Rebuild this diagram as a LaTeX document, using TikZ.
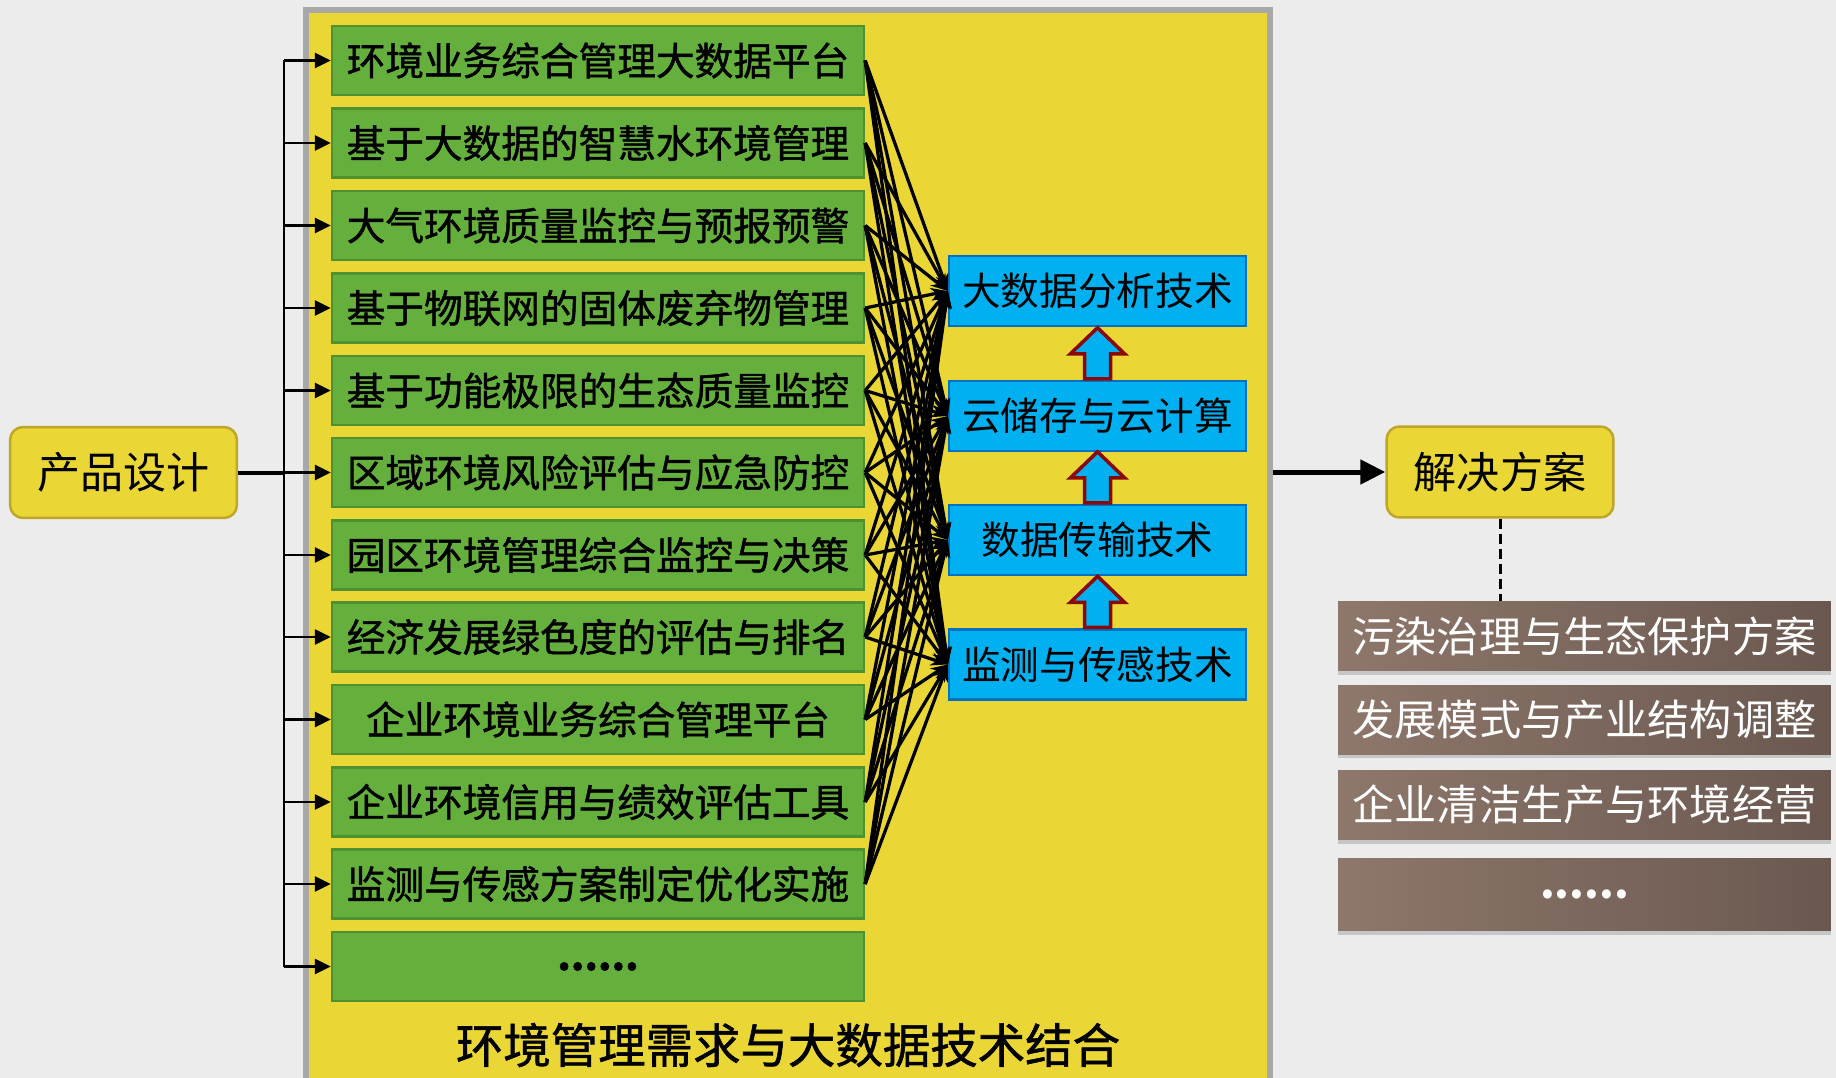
\documentclass[tikz,border=0pt]{standalone}
\usepackage{fontspec}
\setmainfont{Noto Sans CJK SC}
\newfontfamily\heavycjk{Noto Sans CJK SC}[FakeBold=1.2]
\usetikzlibrary{arrows.meta,shadows}

\definecolor{paper}{RGB}{236,236,236}
\definecolor{frameyellow}{RGB}{234,214,52}
\definecolor{framegray}{RGB}{168,168,168}
\definecolor{needgreen}{RGB}{101,176,61}
\definecolor{neededge}{RGB}{78,146,48}
\definecolor{techblue}{RGB}{0,176,240}
\definecolor{techedge}{RGB}{0,112,192}
\definecolor{arrowred}{RGB}{140,8,8}
\definecolor{keyedge}{RGB}{190,166,40}
\definecolor{brownlight}{RGB}{142,119,107}
\definecolor{browndark}{RGB}{106,88,80}

\tikzstyle{need box}=[
    draw = neededge,
    line width = 0.05cm,
    fill = needgreen,
    minimum width = 10.64cm,
    minimum height = 1.38cm,
    inner sep = 0pt,
    font = \heavycjk\fontsize{22pt}{26pt}\selectfont
]
\tikzstyle{tech box}=[
    draw = techedge,
    line width = 0.05cm,
    fill = techblue,
    minimum width = 5.94cm,
    minimum height = 1.4cm,
    inner sep = 0pt,
    font = \fontsize{22pt}{26pt}\selectfont
]
\tikzstyle{key box}=[
    draw = keyedge,
    line width = 0.05cm,
    fill = frameyellow,
    rounded corners = 0.26cm,
    minimum width = 4.54cm,
    minimum height = 1.82cm,
    inner sep = 0pt,
    font = \fontsize{24.5pt}{28pt}\selectfont
]
\tikzstyle{plan box}=[
    left color = brownlight,
    right color = browndark,
    drop shadow = {opacity=0.35, shadow xshift=0cm, shadow yshift=-0.09cm},
    minimum width = 9.86cm,
    minimum height = 1.38cm,
    inner sep = 0pt,
    text = white,
    font = \fontsize{24pt}{28pt}\selectfont
]

\begin{document}
\begin{tikzpicture}[x=0.02cm, y=-0.02cm,
    link/.style = {line width=0.065cm, -{Stealth[length=0.34cm, width=0.26cm]}},
    feed/.style = {line width=0.05cm, -{Triangle[length=0.32cm, width=0.3cm]}},
    up arrow/.style = {draw=arrowred, fill=techblue, line width=0.07cm, line join=miter}]
    \useasboundingbox (0,0) rectangle (1836,1078);
    \fill[paper] (0,0) rectangle (1836,1078);
    \clip (0,0) rectangle (1836,1078);

    % big frame
    \node[draw=framegray, line width=0.12cm, fill=frameyellow, minimum width=19.28cm,
          minimum height=21.6cm, inner sep=0pt] (frame) at (788,550) {};
    \node[font=\heavycjk\fontsize{27pt}{30pt}\selectfont] (title) at (788,1045) {环境管理需求与大数据技术结合};

    % needs
    \node[need box] (g1) at (598,60.5) {环境业务综合管理大数据平台};
    \node[need box] (g2) at (598,143) {基于大数据的智慧水环境管理};
    \node[need box] (g3) at (598,225.5) {大气环境质量监控与预报预警};
    \node[need box] (g4) at (598,308) {基于物联网的固体废弃物管理};
    \node[need box] (g5) at (598,390.5) {基于功能极限的生态质量监控};
    \node[need box] (g6) at (598,472.5) {区域环境风险评估与应急防控};
    \node[need box] (g7) at (598,555) {园区环境管理综合监控与决策};
    \node[need box] (g8) at (598,637) {经济发展绿色度的评估与排名};
    \node[need box] (g9) at (598,719.5) {企业环境业务综合管理平台};
    \node[need box] (g10) at (598,802) {企业环境信用与绩效评估工具};
    \node[need box] (g11) at (598,884) {监测与传感方案制定优化实施};
    \node[need box] (g12) at (598,966.5) {\bfseries ......};

    % technologies
    \node[tech box] (b1) at (1097.5,291) {大数据分析技术};
    \node[tech box] (b2) at (1097.5,416) {云储存与云计算};
    \node[tech box] (b3) at (1097.5,540) {数据传输技术};
    \node[tech box] (b4) at (1097.5,664.5) {监测与传感技术};

    \foreach \lo in {b2,b3,b4}
        \draw[up arrow] (\lo.north) ++(-13,-1) -- ++(0,-25) -- ++(-14,0) -- ++(27,-26)
            -- ++(27,26) -- ++(-14,0) -- ++(0,25) -- cycle;

    \foreach \i in {1,...,11}
        \foreach \j in {1,...,4}
            \draw[link] (g\i.east) -- (b\j.west);

    % product design
    \node[key box] (design) at (123.5,472.5) {产品设计};
    \coordinate (trunk) at (284,0);
    \draw[line width=0.08cm] (design.east) -- (trunk |- design.east);
    \draw[line width=0.05cm] (trunk |- g1.west) -- (trunk |- g12.west);
    \foreach \i in {1,...,12}
        \draw[feed] (trunk |- g\i.west) -- (g\i.west);

    % solutions
    \node[key box] (sol) at (1500,472) {解决方案};
    \draw[line width=0.1cm, -{Triangle[length=0.5cm, width=0.48cm]}] (frame.east |- sol.west) -- (sol.west);

    \node[plan box] (r1) at (1584.5,636) {污染治理与生态保护方案};
    \node[plan box] (r2) at (1584.5,719.5) {发展模式与产业结构调整};
    \node[plan box] (r3) at (1584.5,804.5) {企业清洁生产与环境经营};
    \node[plan box, minimum height=1.44cm] (r4) at (1584.5,894) {\bfseries ......};
    \draw[line width=0.06cm, dash pattern=on 0.2cm off 0.1cm] (sol.south) -- (sol.south |- r1.north);
\end{tikzpicture}
\end{document}
